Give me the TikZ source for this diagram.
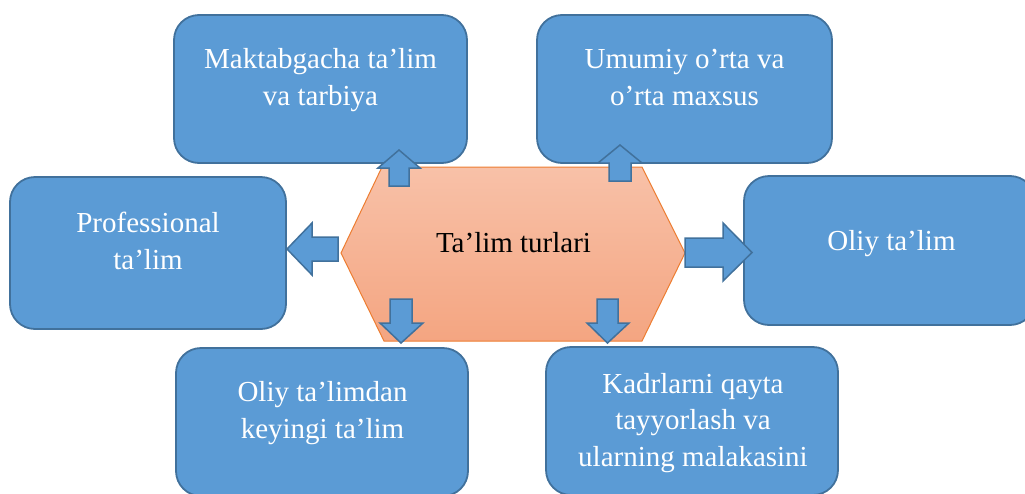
\documentclass[tikz,border=0pt]{standalone}
\usepackage{fontspec}
\setmainfont{Liberation Serif}
\begin{document}
\begin{tikzpicture}[x=1pt,y=-1pt,
  bluebox/.style={draw=boxline, fill=boxfill, line width=1.8pt, rounded corners=25pt, inner sep=0pt},
  boxtext/.style={text=white, align=center, font=\fontsize{29}{36.5}\selectfont, inner sep=0pt, anchor=base},
  blockarrow/.style={draw=boxline, fill=boxfill, line width=1.5pt, line join=miter},
  hexshape/.style={draw=hexline, line width=1pt, top color=hextop, bottom color=hexbot}
]
\definecolor{boxfill}{HTML}{5B9BD5}
\definecolor{boxline}{HTML}{41719C}
\definecolor{hexline}{HTML}{ED7D31}
\definecolor{hextop}{RGB}{248,193,168}
\definecolor{hexbot}{RGB}{244,165,129}
\useasboundingbox (0,0) rectangle (1025,493);
\clip (0,0) rectangle (1025,493);

% central hexagon
\path[hexshape] (341,253) -- (382,167) -- (642,167) -- (685,253) -- (642,341) -- (384,341) -- cycle;
\node[anchor=base, font=\fontsize{29}{36.5}\selectfont, inner sep=0pt] (hub) at (513.5,252) {Ta’lim turlari};

% boxes
\node[bluebox, minimum width=293pt, minimum height=148pt] (b1) at (320.5,89) {};
\node[bluebox, minimum width=295pt, minimum height=148pt] (b2) at (684.5,89) {};
\node[bluebox, minimum width=276pt, minimum height=152pt] (b3) at (148,253) {};
\node[bluebox, minimum width=291pt, minimum height=149pt] (b4) at (889.5,250.5) {};
\node[bluebox, minimum width=292pt, minimum height=148pt] (b5) at (322,422) {};
\node[bluebox, minimum width=292pt, minimum height=148pt] (b6) at (692,421) {};

% block arrows
% up-left
\path[blockarrow] (389,186) -- (389,168) -- (378,168) -- (399,150) -- (420,168) -- (409,168) -- (409,186) -- cycle;
% up-right
\path[blockarrow] (609,181) -- (609,163) -- (598,163) -- (620,145) -- (642,163) -- (631,163) -- (631,181) -- cycle;
% down-left
\path[blockarrow] (390,299) -- (390,323) -- (380,323) -- (401,343) -- (423,323) -- (412,323) -- (412,299) -- cycle;
% down-right
\path[blockarrow] (597,299) -- (597,323) -- (587,323) -- (607.5,343) -- (629,323) -- (618,323) -- (618,299) -- cycle;
% left
\path[blockarrow] (338,237) -- (312,237) -- (312,223) -- (287,249) -- (312,275) -- (312,261) -- (338,261) -- cycle;
% right
\path[blockarrow] (685,238) -- (723,238) -- (723,223) -- (752,252.5) -- (723,281) -- (723,267) -- (685,267) -- cycle;

% texts
\node[boxtext] (t1) at (320.5,105) {Maktabgacha ta’lim\\va tarbiya};
\node[boxtext] (t2) at (684.5,105) {Umumiy o’rta va\\o’rta maxsus};
\node[boxtext] (t3) at (148,269) {Professional\\ta’lim};
\node[boxtext] (t4) at (891.5,250) {Oliy ta’lim};
\node[boxtext] (t5) at (322.5,438) {Oliy ta’limdan\\keyingi ta’lim};
\node[boxtext] (t6) at (693,466) {Kadrlarni qayta\\tayyorlash va\\ularning malakasini};
\end{tikzpicture}
\end{document}
